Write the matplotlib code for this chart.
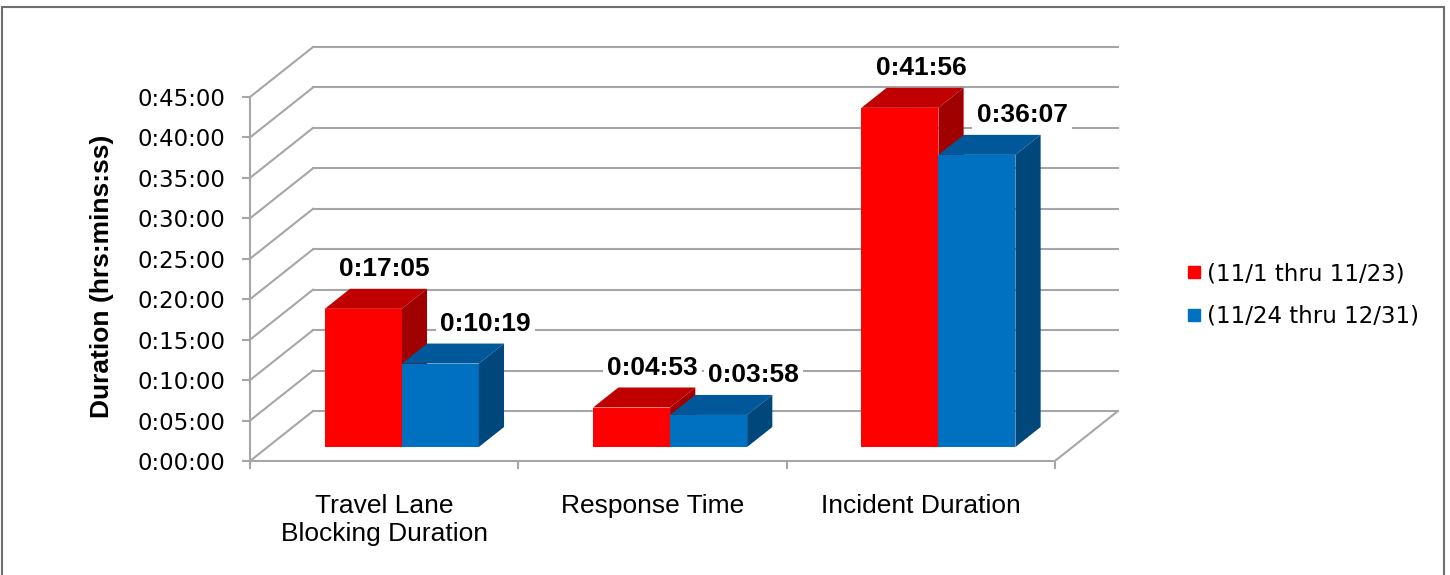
import matplotlib
matplotlib.use("Agg")
import matplotlib.pyplot as plt
from matplotlib.patches import Polygon, Rectangle
from matplotlib.lines import Line2D
import matplotlib.ticker as ticker

# DATA
categories = ["Travel Lane\nBlocking Duration", "Response Time", "Incident Duration"]
series_names = ["(11/1 thru 11/23)", "(11/24 thru 12/31)"]
period_1 = ["0:17:05", "0:04:53", "0:41:56"]
period_2 = ["0:10:19", "0:03:58", "0:36:07"]
y_ticks = [0, 5, 10, 15, 20, 25, 30, 35, 40, 45]


def to_minutes(hms):
    h, m, s = [int(p) for p in hms.split(":")]
    return h * 60 + m + s / 60.0


# colours: front, top, side
red_faces = ["#FF0000", "#C00000", "#A00000"]
blue_faces = ["#0070C0", "#00579A", "#00477C"]
grid_color = "#A6A6A6"

# fake 3d depth, in data units (categories / minutes)
DEPTH_X = 0.235
DEPTH_Y = 6.18
BAR_FRONT = 0.28
BAR_BACK = 0.68
BAR_W = 0.287

fig = plt.figure(figsize=(14.5, 5.75), dpi=100)
ax = fig.add_axes([250 / 1450, 114 / 575, 3.5 * 268.3 / 1450, 52 * 8.089 / 575])
ax.set_xlim(0, 3.5)
ax.set_ylim(0, 52)
ax.patch.set_alpha(0)

# walls and floor
n_cat = len(categories)
for v in y_ticks:
    ax.plot([DEPTH_X, n_cat + DEPTH_X], [v + DEPTH_Y, v + DEPTH_Y], color=grid_color, lw=1.5, zorder=1)
    ax.plot([0, DEPTH_X], [v, v + DEPTH_Y], color=grid_color, lw=1.5, zorder=1)
ax.plot([n_cat, n_cat + DEPTH_X], [0, DEPTH_Y], color=grid_color, lw=1.5, zorder=1)

# bars
all_series = [period_1, period_2]
all_faces = [red_faces, blue_faces]
label_dx = [-4, 20]
for i in range(n_cat):
    for s in range(2):
        h = to_minutes(all_series[s][i])
        x0 = i + 0.5 - BAR_W + s * BAR_W
        x1 = x0 + BAR_W
        fx, fy = BAR_FRONT * DEPTH_X, BAR_FRONT * DEPTH_Y
        bx, by = BAR_BACK * DEPTH_X, BAR_BACK * DEPTH_Y
        front, top, side = all_faces[s]
        ax.add_patch(Polygon([(x0 + fx, fy), (x1 + fx, fy), (x1 + fx, h + fy), (x0 + fx, h + fy)],
                             closed=True, fc=front, ec="none", zorder=3))
        ax.add_patch(Polygon([(x0 + fx, h + fy), (x1 + fx, h + fy), (x1 + bx, h + by), (x0 + bx, h + by)],
                             closed=True, fc=top, ec="none", zorder=3))
        ax.add_patch(Polygon([(x1 + fx, fy), (x1 + bx, by), (x1 + bx, h + by), (x1 + fx, h + fy)],
                             closed=True, fc=side, ec="none", zorder=3))
        ax.annotate(all_series[s][i], xy=((x0 + x1) / 2 + bx, h + by), xytext=(label_dx[s], 20),
                    textcoords="offset pixels", ha="center", va="center",
                    fontsize=19, fontweight="bold", family="Liberation Sans", zorder=5,
                    bbox=dict(fc="white", ec="none", pad=3))

# axes
for side_name in ["top", "right"]:
    ax.spines[side_name].set_visible(False)
ax.spines["left"].set_bounds(0, 45)
ax.spines["bottom"].set_bounds(0, n_cat)
ax.spines["left"].set_color(grid_color)
ax.spines["bottom"].set_color(grid_color)
ax.spines["left"].set_linewidth(1.5)
ax.spines["bottom"].set_linewidth(1.5)

ax.set_yticks(y_ticks)
ax.yaxis.set_major_formatter(ticker.FuncFormatter(lambda v, p: "0:%02d:00" % int(v)))
ax.tick_params(axis="y", direction="out", length=6, width=1.5, color=grid_color, pad=12,
               labelsize=16.5, labelfontfamily="DejaVu Sans")

ax.set_xticks(range(n_cat + 1))
ax.xaxis.set_major_formatter(ticker.NullFormatter())
ax.set_xticks([i + 0.5 for i in range(n_cat)], minor=True)
ax.set_xticklabels(categories, minor=True, fontsize=19, family="Liberation Sans", linespacing=1.2)
ax.tick_params(axis="x", which="major", direction="out", length=6, width=1.5, color=grid_color)
ax.tick_params(axis="x", which="minor", length=0, pad=24)

fig.text(102 / 1450, 1 - 276 / 575, "Duration (hrs:mins:ss)", rotation=90, ha="center", va="center",
         fontsize=19, fontweight="bold", family="Liberation Sans")

handles = [Line2D([], [], marker="s", ls="none", markersize=9, color=red_faces[0]),
           Line2D([], [], marker="s", ls="none", markersize=9, color=blue_faces[0])]
fig.legend(handles, series_names, loc="center left", bbox_to_anchor=(1166 / 1450, 1 - 295 / 575),
           frameon=False, prop={"family": "DejaVu Sans", "size": 16.5},
           handlelength=0.6, handletextpad=0.3, labelspacing=0.85)

fig.patches.append(Rectangle((2 / 1450, -0.05), 1442 / 1450, 1.05 - 7 / 575, transform=fig.transFigure,
                             fill=False, ec="#6E6E6E", lw=1.5))

fig.savefig("out.png", dpi=100)
